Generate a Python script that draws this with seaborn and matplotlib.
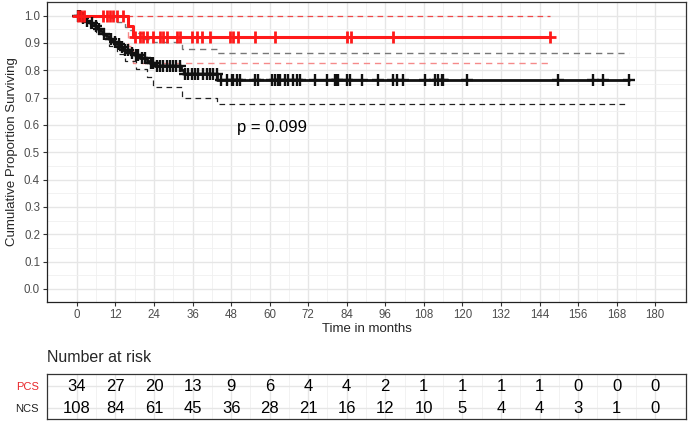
import numpy as np
import pandas as pd
import matplotlib
matplotlib.use("Agg")
import matplotlib.pyplot as plt
import seaborn as sns

# ---- data ----
# PCS curve (red)
pcs_time = [0, 15.9, 17.5, 147.3]
pcs_surv = [1.0, 0.962, 0.923, 0.923]
pcs_lower = [1.0, 0.89, 0.826, 0.826]
pcs_upper = [1.0, 1.0, 1.0, 1.0]
pcs_censor = [0.5, 1.2, 2.2, 8.1, 9.3, 10.2, 11.2, 12.6, 14.3,
              18.1, 19.6, 20.6, 21.8, 23.7, 25.8, 26.8, 28.0, 31.1, 32.1,
              35.8, 37.4, 38.9, 41.4, 47.6, 48.6, 50.1, 55.4, 61.7,
              84.2, 85.2, 98.4, 147.3]

# NCS curve (black)
ncs_time = [0, 1.2, 2.5, 4.0, 5.5, 6.5, 7.3, 8.1, 9.0, 10.0, 11.2, 12.3,
            13.4, 14.5, 16.5, 18.0, 19.6, 21.8, 22.7, 24.3, 32.5, 33.3,
            43.6, 172.0]
ncs_surv = [1.0, 0.991, 0.981, 0.972, 0.962, 0.953, 0.943, 0.934, 0.924,
            0.915, 0.905, 0.895, 0.885, 0.875, 0.865, 0.855, 0.845, 0.835,
            0.826, 0.816, 0.80, 0.786, 0.763, 0.763]
ncs_upper_time = [0, 8.0, 10.3, 12.5, 15.0, 16.5, 17.4, 20.6, 23.7, 32.7,
                  43.6, 172.0]
ncs_upper = [1.0, 0.996, 0.99, 0.975, 0.958, 0.947, 0.936, 0.915, 0.905,
             0.878, 0.864, 0.864]
ncs_lower_time = [0, 2.0, 4.0, 6.0, 8.0, 10.0, 12.5, 15.0, 18.5, 21.8,
                  23.7, 32.7, 43.6, 172.0]
ncs_lower = [1.0, 0.975, 0.955, 0.935, 0.915, 0.89, 0.86, 0.835, 0.805,
             0.776, 0.74, 0.70, 0.677, 0.677]
ncs_censor = [0.3, 0.9, 1.8, 3.0, 4.6, 6.0, 7.0, 8.5, 10.5, 12.0, 13.0,
              14.0, 15.0, 16.0, 17.2, 18.3, 19.0, 20.4, 21.2, 23.0,
              23.8, 24.8, 25.8, 26.9, 27.9, 29.0, 30.0, 31.0, 32.1,
              33.6, 34.7, 35.7, 36.8, 37.8, 39.3, 40.4, 41.4, 42.5, 43.5,
              45.0, 46.6, 48.2, 48.6, 49.7, 50.8, 55.4, 56.4, 60.6, 61.7,
              62.6, 63.2, 64.8, 65.7, 67.3, 68.4, 69.4, 74.1, 77.8, 80.3,
              80.9, 81.3, 84.0, 85.0, 88.7, 93.8, 98.4, 99.6, 101.5, 108.4,
              111.5, 112.4, 113.6, 114.0, 121.4, 149.9, 160.6, 163.7, 172.0]

risk_times = [0, 12, 24, 36, 48, 60, 72, 84, 96, 108, 120, 132, 144, 156, 168, 180]
pcs_risk = [34, 27, 20, 13, 9, 6, 4, 4, 2, 1, 1, 1, 1, 0, 0, 0]
ncs_risk = [108, 84, 61, 45, 36, 28, 21, 16, 12, 10, 5, 4, 4, 3, 1, 0]
risk_groups = ["PCS", "NCS"]
risk_colors = ["#e8262b", "#222222"]

p_label = "p = 0.099"

# ---- style ----
sns.set_theme(style="white")
plt.rcParams["font.family"] = ["Liberation Sans", "DejaVu Sans"]

RED = "#ff1a1a"
BLACK = "#111111"
DASH = (0, (4.5, 3.5))


def step_at(times, vals, t):
    idx = np.searchsorted(np.asarray(times), np.asarray(t), side="right") - 1
    return np.asarray(vals)[idx]


def style_grid(ax):
    ax.set_xticks(np.arange(0, 181, 6), minor=True)
    ax.grid(which="major", color="#e6e6e6", lw=1.0)
    ax.grid(which="minor", color="#f0f0f0", lw=0.6)
    ax.set_axisbelow(True)
    for s in ax.spines.values():
        s.set_color("#333333")
        s.set_linewidth(0.9)


def km_line(ax, t, s, color, lw, ls="-"):
    sns.lineplot(x=t, y=s, ax=ax, color=color, lw=lw, linestyle=ls,
                 drawstyle="steps-post", estimator=None, sort=False)


fig = plt.figure(figsize=(6.88, 4.23), dpi=100)
ax = fig.add_axes([47 / 688, 121 / 423, 639 / 688, 300 / 423])

# confidence bands (dashed)
km_line(ax, pcs_time, pcs_upper, "#f04848", 0.9, DASH)
km_line(ax, pcs_time, pcs_lower, "#f58a8a", 1.0, DASH)
km_line(ax, ncs_upper_time, ncs_upper, "#777777", 1.0, DASH)
km_line(ax, ncs_lower_time, ncs_lower, "#222222", 0.9, DASH)

# survival curves
km_line(ax, ncs_time, ncs_surv, BLACK, 2.0)
km_line(ax, pcs_time, pcs_surv, RED, 2.2)

# censor marks
sns.scatterplot(x=ncs_censor, y=step_at(ncs_time, ncs_surv, ncs_censor), ax=ax,
                marker="+", s=70, color=BLACK, linewidth=1.7, zorder=4)
sns.scatterplot(x=pcs_censor, y=step_at(pcs_time, pcs_surv, pcs_censor), ax=ax,
                marker="+", s=80, color=RED, linewidth=2.0, zorder=5)

ax.text(60.7, 0.589, p_label, ha="center", va="center", fontsize=12, color="black")

ax.set_xlim(-9.3, 189.6)
ax.set_ylim(-0.048, 1.05)
ax.set_xticks(risk_times)
ax.set_yticks(np.round(np.arange(0, 1.01, 0.1), 1))
ax.set_yticks(np.arange(0.05, 1.0, 0.1), minor=True)
ax.yaxis.set_major_formatter(matplotlib.ticker.FormatStrFormatter("%.1f"))
style_grid(ax)
ax.spines["left"].set_color("#222222")
ax.spines["bottom"].set_color("#222222")
ax.tick_params(axis="both", which="major", labelsize=8.3, labelcolor="#4d4d4d",
               length=3, width=0.8, color="#333333", pad=2, bottom=True, left=True)
ax.tick_params(which="minor", length=0)
ax.set_xlabel("Time in months", fontsize=9.5, labelpad=1.5)
ax.set_ylabel("Cumulative Proportion Surviving", fontsize=9.5, labelpad=4)

# ---- risk table ----
axr = fig.add_axes([47 / 688, 4 / 423, 639 / 688, 45 / 423])
for grp, vals, yv in zip(risk_groups, [pcs_risk, ncs_risk], [1, 0]):
    for t, v in zip(risk_times, vals):
        axr.text(t, yv, str(v), ha="center", va="center", fontsize=12, color="black")
axr.set_xlim(-9.3, 189.6)
axr.set_ylim(-0.5, 1.55)
axr.set_xticks(risk_times)
axr.set_xticklabels([])
axr.set_yticks([1, 0])
axr.set_yticklabels(risk_groups)
for lab, c in zip(axr.get_yticklabels(), risk_colors):
    lab.set_color(c)
style_grid(axr)
axr.tick_params(axis="y", labelsize=8, length=0, pad=6)
axr.tick_params(axis="x", length=0)
fig.text(47 / 688, (423 - 357) / 423, "Number at risk", fontsize=11.5,
         ha="left", va="center")

fig.savefig("out.png", dpi=100)
